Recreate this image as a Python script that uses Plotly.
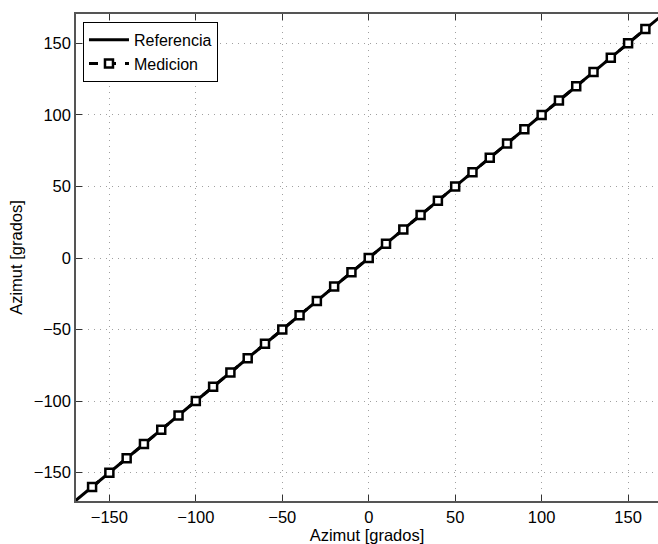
import plotly.graph_objects as go

ref_x = [-170, 170]
ref_y = [-170, 170]
med_x = [-160, -150, -140, -130, -120, -110, -100, -90, -80, -70, -60, -50, -40, -30, -20, -10,
         0, 10, 20, 30, 40, 50, 60, 70, 80, 90, 100, 110, 120, 130, 140, 150, 160]
med_y = [-160, -150, -140, -130, -120, -110, -100, -90, -80, -70, -60, -50, -40, -30, -20, -10,
         0, 10, 20, 30, 40, 50, 60, 70, 80, 90, 100, 110, 120, 130, 140, 150, 160]
tick_vals = [-150, -100, -50, 0, 50, 100, 150]

fig = go.Figure()
fig.add_trace(go.Scatter(x=ref_x, y=ref_y, mode="lines", name="Referencia",
                         line=dict(color="black", width=3)))
fig.add_trace(go.Scatter(x=med_x, y=med_y, mode="lines+markers", name="Medicion",
                         line=dict(color="black", width=3, dash="dash"),
                         marker=dict(symbol="square", size=8, color="white",
                                     line=dict(color="black", width=2.5))))

font = dict(family="Liberation Sans, Arial, sans-serif", size=16.5, color="black")
axis_common = dict(
    showgrid=True, gridcolor="#a0a0a0", griddash="1px,5px", gridwidth=1,
    zeroline=False, showline=True, linecolor="#555555", linewidth=1.5,
    ticks="inside", ticklen=6, tickcolor="#333333",
    tickvals=tick_vals, tickfont=font,
)
fig.update_layout(
    width=658, height=544,
    margin=dict(l=76, r=0, t=14, b=43),
    paper_bgcolor="white", plot_bgcolor="white",
    font=font,
    xaxis=dict(range=[-169.3, 167.3], mirror="ticks",
               title=dict(text="Azimut [grados]", font=font, standoff=2), **axis_common),
    yaxis=dict(range=[-169.8, 170.5],
               title=dict(text="Azimut [grados]", font=font, standoff=7), **axis_common),
    legend=dict(x=0.012, y=0.984, xanchor="left", yanchor="top",
                bgcolor="white", bordercolor="black", borderwidth=1,
                font=dict(family="Liberation Sans, Arial, sans-serif", size=16, color="black"),
                tracegroupgap=0, itemwidth=40),
    showlegend=True,
)
fig.write_html("out.html", config={"displayModeBar": False},
               post_script="document.body.style.margin='0';document.body.style.overflow='hidden';")
